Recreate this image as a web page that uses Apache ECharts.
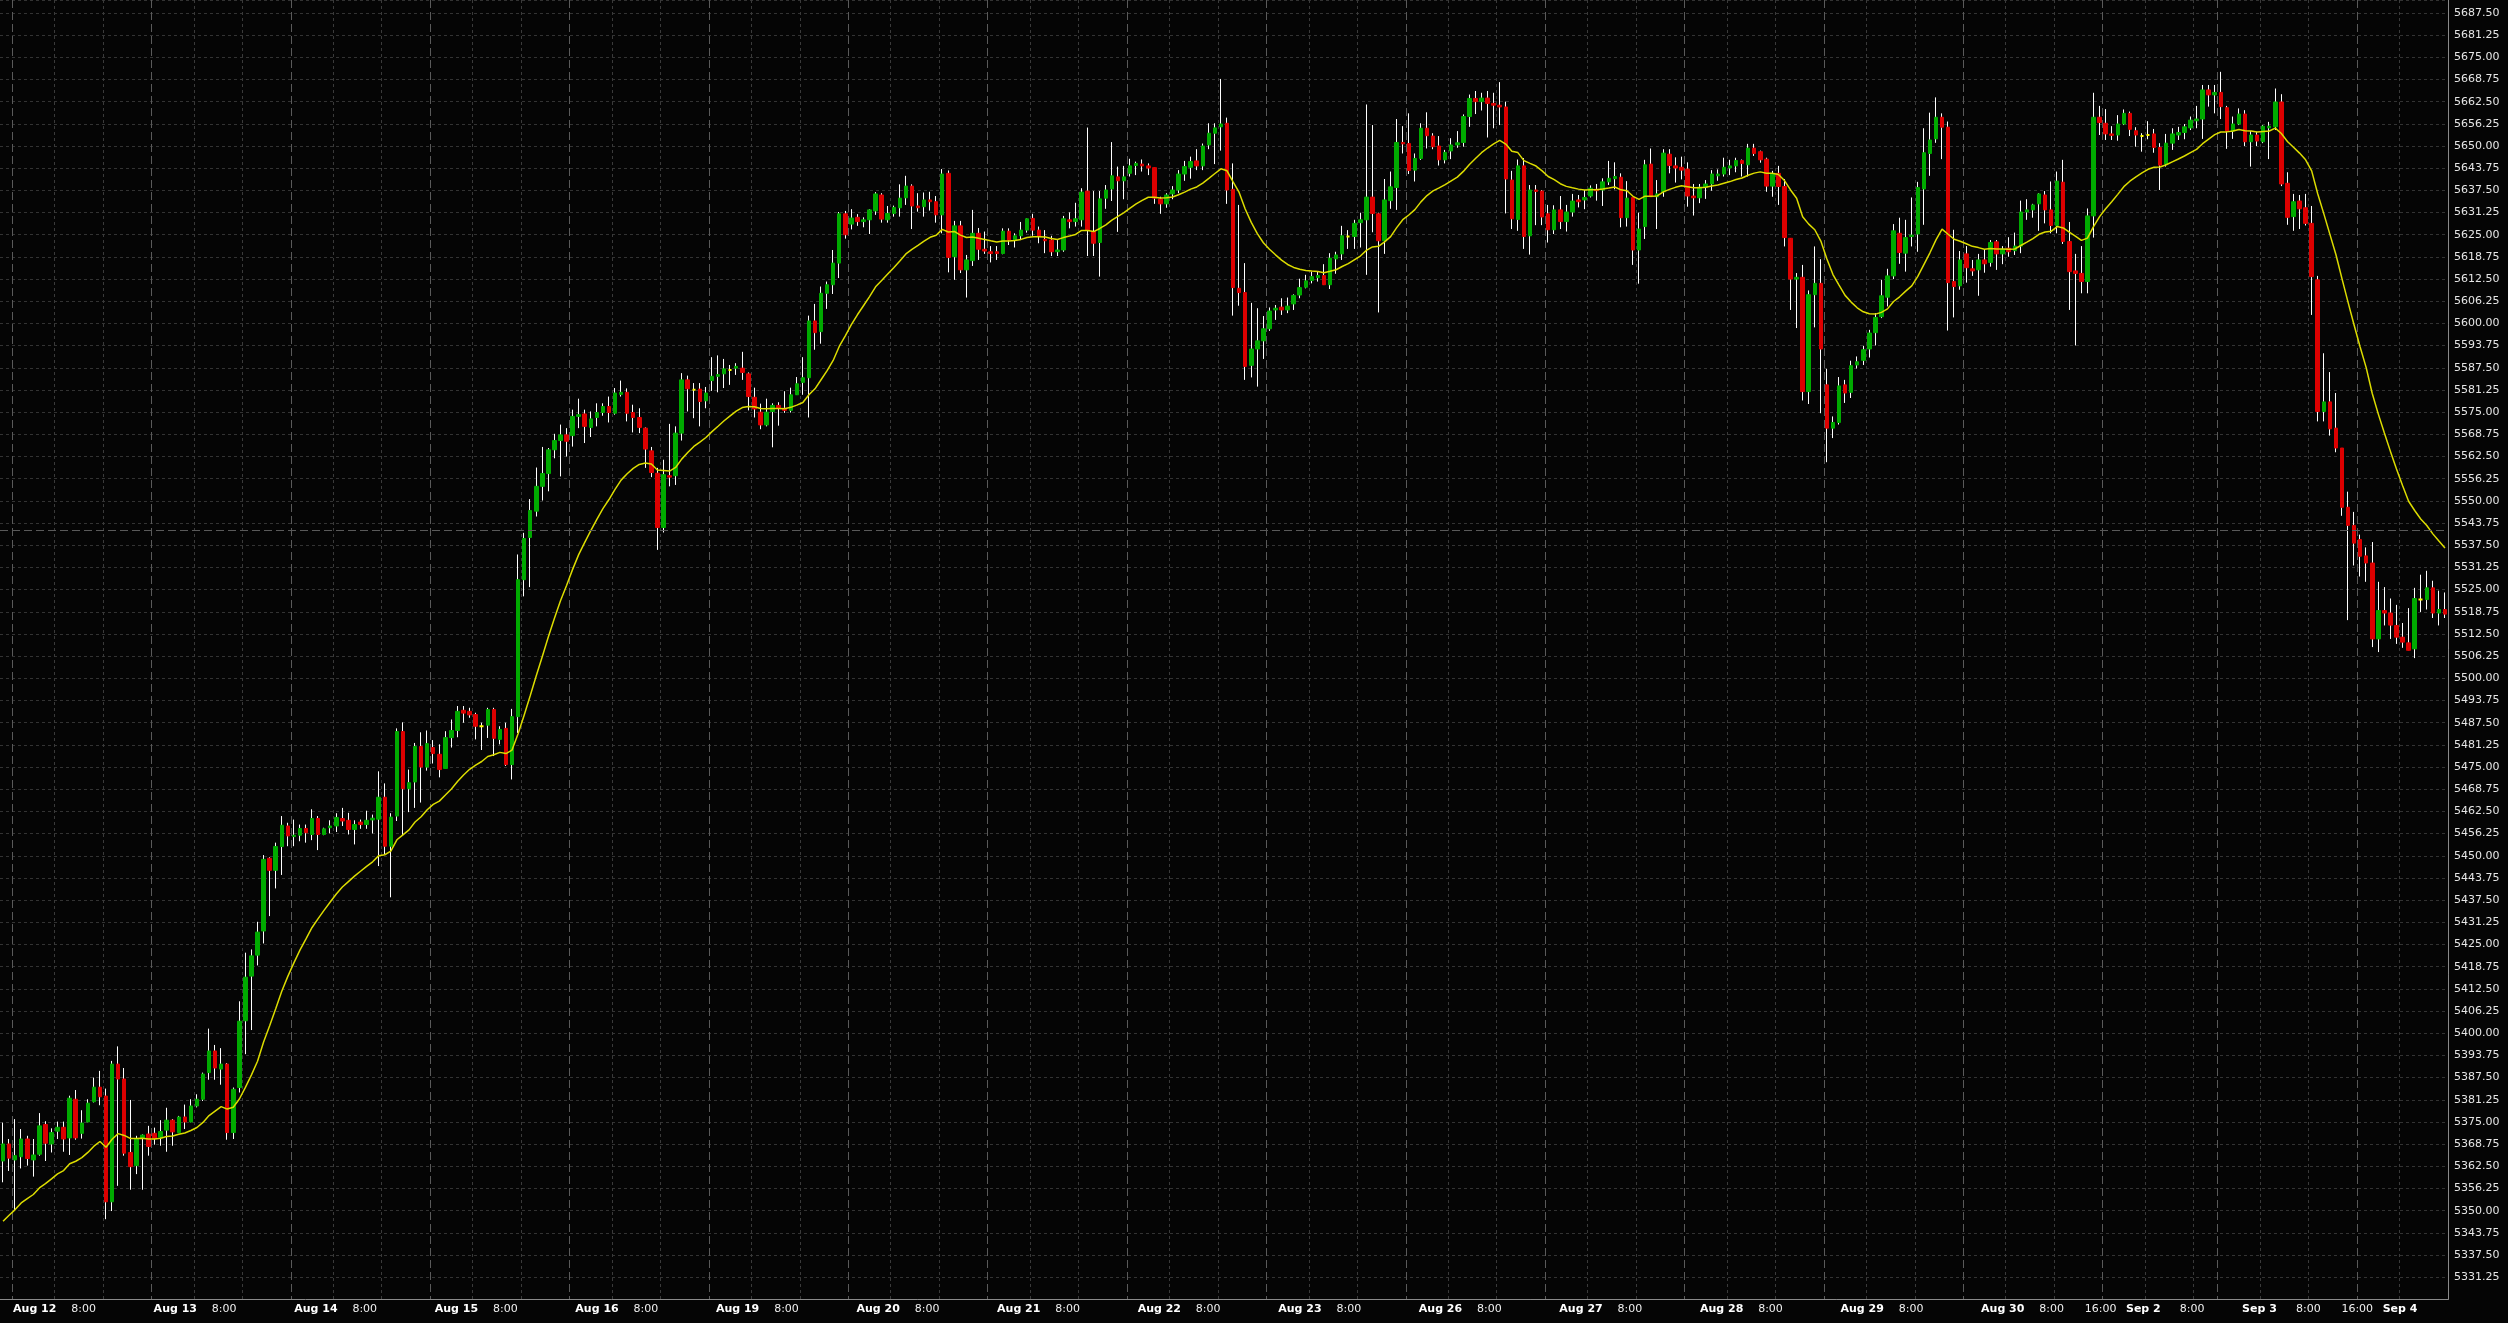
<!DOCTYPE html>
<html><head><meta charset="utf-8">
<script src="https://cdn.jsdelivr.net/npm/echarts@6/dist/echarts.min.js"></script>
<style>html,body{margin:0;padding:0;background:#050505;}#c{width:2508px;height:1323px;}</style>
</head><body><div id="c"></div>
<script>
// ---- data (hourly OHLC) ----
const opens = [
5364.0,5368.8,5364.3,5365.2,5370.2,5364.3,5365.9,5374.3,5368.8,5372.4,5373.5,5370.5,5381.4,5371.8,5375.0,5380.7,5384.8,5382.3,5352.5,5391.3,
5387.1,5366.4,5362.7,5370.5,5371.6,5371.8,5370.7,5372.7,5375.5,5372.0,5376.4,5375.0,5379.5,5381.4,5388.9,5395.0,5389.9,5391.3,5372.0,5384.7,
5403.5,5416.1,5422.0,5428.8,5449.3,5445.9,5452.6,5458.4,5455.4,5455.8,5457.7,5456.0,5460.5,5456.0,5457.9,5458.4,5460.5,5460.0,5457.4,5459.5,
5458.8,5460.1,5460.3,5466.5,5452.7,5461.2,5485.0,5468.9,5470.8,5480.8,5475.0,5480.5,5478.6,5474.6,5483.3,5485.3,5491.0,5490.7,5489.8,5486.5,
5486.8,5491.2,5482.8,5485.9,5475.7,5489.2,5527.8,5539.7,5547.1,5554.1,5557.7,5564.4,5567.0,5568.6,5568.4,5573.8,5574.5,5570.7,5573.5,5574.9,
5576.6,5574.7,5580.0,5580.6,5574.9,5573.5,5570.5,5564.1,5557.8,5542.5,5557.1,5557.1,5569.1,5584.1,5581.3,5581.5,5578.2,5583.9,5585.1,5585.8,
5586.9,5587.4,5587.4,5585.8,5579.2,5575.0,5571.4,5575.2,5576.9,5576.1,5575.5,5579.9,5583.4,5584.7,5600.7,5597.7,5608.5,5610.9,5617.0,5630.9,
5628.0,5629.9,5628.7,5629.2,5631.7,5636.2,5629.2,5631.0,5632.6,5635.4,5638.7,5633.1,5632.9,5634.8,5634.3,5630.6,5642.3,5618.8,5627.5,5615.1,
5617.7,5625.4,5620.9,5620.2,5620.2,5619.7,5626.0,5623.5,5624.7,5626.3,5629.6,5626.3,5623.7,5623.5,5620.2,5620.7,5629.2,5628.7,5629.2,5637.3,
5625.9,5622.8,5635.3,5637.9,5641.3,5640.2,5642.3,5644.5,5644.9,5644.4,5643.9,5635.1,5633.7,5636.5,5637.6,5642.1,5644.0,5645.8,5644.4,5650.3,
5653.6,5655.4,5656.4,5637.8,5609.9,5608.7,5588.2,5592.8,5595.1,5598.5,5603.8,5604.6,5603.8,5605.5,5608.0,5610.2,5612.1,5612.9,5613.5,5610.9,
5618.2,5619.6,5624.5,5624.5,5628.4,5629.2,5635.6,5630.9,5623.3,5634.6,5638.3,5651.0,5650.7,5643.2,5646.5,5655.0,5652.8,5650.0,5646.1,5648.6,
5650.3,5651.0,5658.3,5663.4,5662.5,5663.5,5662.0,5661.5,5661.0,5640.4,5629.3,5644.4,5624.7,5637.6,5637.3,5630.9,5626.4,5632.0,5628.7,5631.4,
5634.8,5634.8,5635.9,5637.8,5637.6,5639.9,5640.8,5641.2,5629.8,5635.5,5620.7,5627.3,5644.9,5635.7,5637.1,5647.7,5644.4,5644.0,5643.5,5635.9,
5635.4,5638.4,5639.3,5641.6,5642.1,5643.8,5644.4,5645.9,5644.7,5649.4,5648.4,5646.3,5638.7,5642.3,5638.6,5624.0,5612.5,5613.0,5580.8,5608.1,
5611.3,5582.7,5570.5,5572.1,5582.7,5580.6,5588.3,5589.6,5592.8,5597.4,5601.9,5607.4,5613.4,5625.4,5619.8,5624.5,5625.2,5637.9,5647.9,5652.0,
5658.1,5655.3,5611.8,5610.6,5619.6,5615.4,5615.1,5617.9,5617.2,5623.0,5619.6,5621.2,5620.5,5621.8,5631.4,5632.0,5633.7,5636.2,5632.0,5627.6,
5639.8,5623.1,5614.8,5614.1,5611.8,5630.3,5658.1,5656.4,5653.4,5653.1,5656.2,5659.2,5654.3,5652.8,5653.1,5653.4,5649.6,5644.9,5650.8,5653.1,
5653.8,5655.1,5657.1,5657.6,5665.8,5664.4,5665.1,5660.8,5654.2,5656.2,5659.0,5651.2,5653.1,5651.2,5655.1,5655.4,5662.4,5639.5,5630.1,5634.5,
5632.6,5628.2,5612.3,5575.2,5577.9,5570.5,5564.9,5548.2,5543.1,5539.1,5534.5,5532.5,5511.1,5519.1,5518.4,5514.9,5511.6,5510.0,5508.3,5522.2,
5522.2,5525.5,5518.4,5519.4];
const highs = [
5374.8,5370.2,5375.8,5373.0,5371.1,5370.2,5377.5,5375.2,5373.2,5375.1,5375.1,5382.4,5384.0,5378.3,5381.4,5387.5,5389.4,5384.4,5392.2,5396.3,
5390.2,5381.2,5371.1,5371.5,5373.9,5373.4,5375.5,5379.0,5375.8,5376.7,5379.9,5381.4,5382.8,5388.9,5401.3,5396.7,5395.8,5391.6,5384.7,5409.0,
5422.7,5423.6,5431.4,5450.2,5449.6,5453.7,5461.2,5459.3,5460.2,5458.8,5458.8,5463.1,5461.2,5457.9,5460.0,5462.0,5463.5,5462.1,5460.0,5460.2,
5462.7,5461.6,5473.8,5470.4,5462.0,5485.9,5487.6,5474.3,5481.8,5484.8,5485.3,5482.6,5481.4,5485.1,5488.4,5492.2,5492.2,5491.7,5490.3,5487.5,
5491.7,5491.7,5486.5,5487.5,5491.4,5534.9,5541.0,5550.5,5559.4,5565.2,5564.9,5568.9,5571.5,5570.5,5575.7,5578.8,5575.7,5575.2,5577.5,5577.5,
5579.4,5581.8,5583.9,5581.7,5577.1,5576.1,5570.7,5565.2,5559.3,5561.6,5571.7,5571.0,5586.0,5585.3,5583.2,5583.2,5582.1,5590.5,5591.0,5590.0,
5588.3,5588.8,5592.0,5586.2,5581.9,5577.4,5578.8,5577.5,5577.8,5580.9,5581.9,5584.9,5590.5,5602.2,5605.5,5610.4,5611.8,5620.7,5631.4,5631.7,
5632.2,5630.8,5629.9,5632.2,5637.0,5636.7,5633.1,5633.2,5639.2,5641.6,5639.2,5636.7,5636.9,5637.1,5635.9,5643.5,5643.1,5628.9,5628.9,5619.3,
5632.0,5626.9,5625.9,5621.8,5621.8,5626.8,5626.8,5625.4,5628.6,5629.6,5630.9,5627.3,5626.3,5624.7,5623.5,5630.3,5631.3,5634.0,5638.1,5655.2,
5637.3,5637.3,5639.0,5651.1,5644.2,5644.4,5646.4,5645.6,5646.2,5645.1,5643.9,5635.7,5636.7,5638.7,5643.2,5645.8,5647.0,5649.1,5650.7,5656.4,
5656.4,5668.9,5658.0,5645.1,5633.4,5617.0,5605.8,5604.3,5602.1,5604.5,5605.2,5607.1,5607.3,5608.2,5612.6,5613.7,5614.6,5614.6,5616.7,5619.8,
5620.2,5627.5,5626.3,5629.2,5631.2,5661.7,5655.9,5631.2,5640.7,5642.8,5657.6,5655.6,5659.2,5647.9,5656.4,5659.5,5653.6,5652.8,5648.9,5652.2,
5654.2,5658.9,5664.5,5665.5,5665.0,5665.5,5665.0,5668.0,5662.5,5643.0,5646.2,5646.6,5639.0,5639.0,5637.6,5633.4,5633.3,5635.9,5633.4,5636.5,
5636.2,5637.6,5638.9,5639.3,5640.9,5645.8,5645.4,5642.3,5640.1,5635.5,5631.2,5646.1,5649.3,5640.4,5649.1,5649.1,5646.8,5647.0,5645.4,5639.3,
5639.3,5640.4,5643.2,5643.4,5646.7,5646.1,5646.7,5646.2,5650.6,5650.6,5648.7,5646.7,5643.0,5644.4,5640.7,5624.0,5614.2,5616.5,5609.3,5621.7,
5618.1,5587.2,5573.8,5584.9,5584.1,5589.5,5590.7,5593.7,5598.2,5602.9,5612.3,5615.4,5628.0,5629.8,5629.2,5635.5,5639.9,5655.0,5659.4,5663.7,
5659.2,5656.9,5626.4,5620.4,5621.8,5617.9,5619.6,5620.7,5623.5,5623.5,5621.8,5624.3,5625.6,5634.6,5635.0,5633.7,5636.7,5637.3,5640.0,5642.8,
5646.1,5628.6,5619.6,5621.8,5632.4,5665.0,5661.3,5660.4,5655.6,5658.7,5660.3,5659.7,5655.3,5653.6,5657.0,5654.8,5650.8,5653.4,5655.0,5655.4,
5656.2,5658.3,5661.3,5667.2,5667.2,5667.2,5670.9,5661.3,5658.3,5660.6,5660.1,5654.2,5654.0,5655.9,5656.8,5666.2,5664.6,5642.6,5636.5,5636.2,
5636.5,5633.1,5613.4,5591.6,5586.3,5580.4,5564.9,5552.6,5546.9,5540.5,5536.9,5538.4,5527.2,5525.7,5522.5,5520.7,5515.6,5519.8,5525.5,5529.2,
5530.3,5527.5,5524.7,5524.2];
const lows = [
5358.0,5361.2,5350.0,5361.9,5362.7,5359.6,5365.5,5364.0,5366.4,5370.2,5366.6,5365.7,5370.0,5370.3,5374.9,5380.5,5379.7,5347.6,5349.9,5357.0,
5365.5,5355.9,5360.3,5355.9,5365.5,5368.6,5368.3,5366.6,5368.3,5372.0,5373.0,5374.9,5379.1,5380.9,5386.9,5386.9,5385.5,5370.0,5370.2,5383.3,
5394.1,5400.9,5419.1,5425.3,5433.0,5440.8,5444.6,5452.7,5452.7,5454.1,5453.7,5454.4,5451.6,5455.8,5456.3,5456.7,5458.4,5456.0,5453.2,5457.6,
5457.6,5456.3,5447.1,5450.4,5438.3,5459.8,5455.6,5462.3,5463.5,5465.0,5474.0,5476.0,5472.1,5474.6,5480.5,5483.4,5487.5,5488.9,5482.8,5479.8,
5483.2,5478.1,5481.4,5475.3,5471.5,5484.6,5523.1,5525.7,5545.6,5550.1,5552.7,5562.0,5556.9,5562.5,5565.3,5570.5,5566.3,5568.0,5571.0,5574.0,
5572.1,5574.3,5579.4,5572.4,5569.3,5569.1,5559.3,5556.7,5536.2,5541.1,5554.1,5554.5,5567.0,5575.2,5573.3,5571.0,5576.1,5581.0,5580.6,5581.8,
5582.7,5585.5,5584.1,5575.5,5573.5,5570.2,5571.0,5565.1,5571.2,5574.8,5574.9,5579.9,5579.9,5573.5,5592.6,5594.3,5604.1,5608.3,5612.8,5623.9,
5626.5,5627.5,5627.1,5625.2,5630.6,5628.4,5628.4,5630.1,5630.1,5633.4,5626.6,5631.5,5630.1,5631.8,5628.4,5625.4,5614.4,5612.3,5614.2,5607.3,
5616.2,5617.9,5619.6,5617.2,5617.9,5619.5,5622.1,5621.4,5623.5,5625.6,5624.7,5622.6,5619.8,5619.0,5619.0,5620.2,5626.8,5627.3,5627.3,5619.0,
5619.0,5613.2,5632.3,5634.5,5625.8,5635.0,5641.4,5641.8,5642.8,5641.8,5633.7,5630.9,5632.6,5635.0,5636.7,5640.2,5640.8,5643.2,5643.2,5649.1,
5644.9,5648.7,5633.7,5602.2,5605.0,5584.1,5584.8,5582.2,5590.0,5597.9,5601.0,5602.4,5602.9,5603.8,5607.1,5609.9,5611.3,5611.8,5610.9,5609.7,
5614.0,5617.9,5621.0,5621.0,5621.4,5613.7,5625.7,5603.1,5619.6,5632.3,5632.0,5647.9,5642.1,5640.0,5646.1,5649.3,5649.1,5644.5,5645.1,5646.3,
5649.5,5649.8,5655.4,5659.0,5660.0,5652.4,5655.0,5655.9,5631.0,5626.6,5626.1,5621.0,5619.4,5627.7,5627.7,5622.8,5625.2,5626.6,5625.9,5630.1,
5632.7,5632.2,5635.5,5634.6,5633.1,5639.0,5637.8,5627.1,5627.3,5616.5,5611.2,5623.8,5635.7,5626.6,5635.7,5642.3,5639.7,5640.6,5632.9,5630.4,
5633.9,5635.1,5637.4,5640.2,5641.4,5641.8,5642.6,5641.4,5641.4,5647.2,5645.3,5637.1,5635.7,5633.4,5621.7,5603.8,5598.7,5578.3,5577.3,5598.9,
5574.7,5560.9,5567.7,5571.5,5577.6,5579.0,5587.3,5588.3,5590.4,5593.8,5601.5,5604.8,5612.5,5616.8,5614.6,5621.7,5620.2,5627.8,5641.6,5650.9,
5646.3,5598.0,5601.7,5609.5,5611.5,5613.4,5607.8,5614.3,5616.0,5615.1,5616.7,5618.8,5619.3,5619.8,5629.2,5629.8,5626.1,5628.2,5625.4,5625.4,
5622.4,5603.8,5593.8,5608.5,5608.5,5624.2,5653.1,5651.7,5651.7,5651.5,5655.9,5652.8,5649.8,5648.4,5651.9,5648.1,5637.6,5644.2,5648.9,5651.7,
5651.9,5654.5,5655.0,5652.0,5661.1,5659.2,5657.6,5649.2,5652.0,5655.9,5650.0,5644.2,5650.0,5650.8,5646.3,5654.5,5638.7,5627.8,5626.1,5626.6,
5627.6,5602.4,5572.4,5572.4,5568.4,5563.7,5545.8,5516.4,5531.8,5528.7,5527.2,5508.8,5507.4,5514.9,5511.1,5509.7,5508.6,5507.9,5505.7,5518.7,
5519.4,5517.0,5514.9,5517.0];
const closes = [
5368.8,5364.8,5365.5,5370.2,5364.7,5365.7,5373.9,5369.0,5372.0,5373.5,5370.2,5381.7,5370.5,5374.7,5380.3,5384.8,5382.1,5352.5,5391.3,5387.1,
5366.2,5362.4,5370.3,5371.3,5368.1,5370.3,5372.3,5375.5,5372.2,5376.4,5375.0,5379.5,5381.4,5388.5,5395.0,5390.2,5391.3,5372.0,5384.2,5403.4,
5415.8,5421.8,5428.5,5449.0,5445.9,5452.6,5458.6,5455.6,5455.8,5457.7,5456.5,5460.5,5456.0,5457.6,5458.4,5460.8,5459.8,5457.4,5458.8,5458.8,
5460.0,5460.6,5466.5,5452.7,5460.9,5485.0,5468.9,5470.6,5480.8,5475.0,5481.6,5478.8,5474.3,5483.3,5485.3,5490.7,5490.2,5489.7,5486.5,5486.5,
5491.2,5483.1,5485.6,5475.7,5489.2,5527.8,5539.4,5547.3,5554.1,5557.7,5564.4,5567.0,5568.6,5566.8,5573.8,5574.3,5571.0,5573.1,5574.9,5576.6,
5574.9,5580.4,5580.6,5574.7,5573.5,5570.7,5564.6,5558.0,5542.5,5557.4,5556.7,5569.1,5584.1,5581.6,5581.3,5578.0,5580.4,5585.1,5585.6,5587.2,
5586.9,5587.9,5586.2,5579.4,5575.9,5571.4,5575.0,5576.9,5576.0,5575.5,5579.9,5583.0,5584.7,5600.7,5597.4,5608.5,5610.9,5617.0,5630.9,5625.0,
5629.7,5628.7,5629.2,5632.0,5636.5,5629.4,5631.0,5632.7,5635.3,5638.7,5633.1,5632.6,5634.8,5634.3,5630.6,5642.1,5618.6,5627.5,5615.1,5617.9,
5625.4,5620.9,5620.4,5619.7,5619.7,5626.0,5623.5,5624.7,5626.3,5629.5,5626.3,5624.5,5623.3,5620.2,5620.7,5629.5,5628.7,5629.5,5637.0,5626.3,
5622.6,5635.1,5637.6,5641.6,5640.2,5641.3,5644.4,5645.1,5644.4,5643.8,5635.3,5633.7,5636.2,5637.6,5642.1,5644.2,5645.6,5644.4,5650.0,5653.6,
5655.1,5656.2,5637.6,5610.1,5608.7,5587.9,5592.8,5595.1,5598.5,5603.5,5604.3,5603.8,5604.9,5607.9,5610.1,5612.0,5613.2,5613.5,5610.9,5618.4,
5619.3,5624.7,5624.5,5628.2,5629.2,5635.6,5631.0,5623.3,5634.8,5638.5,5651.0,5650.6,5643.1,5646.5,5655.0,5652.9,5649.8,5646.1,5648.2,5650.3,
5650.9,5658.3,5663.4,5662.5,5663.5,5662.0,5661.5,5661.0,5640.7,5629.5,5644.4,5624.5,5637.6,5637.2,5630.0,5626.4,5632.0,5628.7,5631.4,5634.5,
5634.3,5635.5,5638.1,5637.4,5639.9,5640.9,5641.4,5629.8,5635.3,5620.7,5626.6,5644.7,5635.7,5636.5,5648.0,5644.5,5643.8,5643.2,5635.9,5635.4,
5638.4,5639.3,5642.1,5642.1,5644.0,5644.4,5645.9,5645.1,5649.4,5647.9,5646.1,5638.7,5642.1,5638.6,5624.2,5612.5,5613.0,5580.8,5608.1,5611.3,
5592.8,5570.5,5572.1,5582.4,5580.4,5588.1,5589.2,5592.6,5597.3,5601.7,5607.8,5613.4,5626.1,5620.0,5624.2,5624.9,5638.3,5648.1,5651.7,5658.1,
5655.3,5611.5,5610.4,5617.9,5615.7,5614.8,5617.9,5616.8,5622.8,5619.6,5620.9,5620.2,5621.8,5631.4,5632.0,5633.4,5636.5,5632.0,5627.6,5640.1,
5623.1,5614.6,5614.1,5611.8,5630.3,5658.1,5656.6,5653.4,5653.0,5656.2,5659.2,5654.7,5653.1,5652.8,5653.1,5649.6,5644.6,5650.8,5653.4,5653.8,
5655.4,5657.3,5657.6,5665.8,5664.4,5665.1,5661.1,5654.2,5656.2,5659.0,5651.2,5653.1,5651.4,5655.6,5655.6,5662.4,5639.3,5629.9,5634.3,5632.3,
5628.2,5613.2,5575.2,5577.9,5570.3,5564.9,5548.2,5543.1,5538.1,5534.4,5532.5,5511.1,5519.1,5518.4,5515.0,5511.6,5510.2,5507.9,5522.5,5522.2,
5525.5,5518.4,5519.4,5518.1];

// moving average (EMA 20 of closes), first value
const maPeriod = 20;
const maSeed = 5347.0;
// horizontal dashed reference level
const refLevel = 5541.75;

// sessions: first Sunday evening, then trading days (hours 0..lastHour, then 18..23 evening)
const firstEvening = 'Aug 11';
const tradingDays = ['Aug 12','Aug 13','Aug 14','Aug 15','Aug 16','Aug 19','Aug 20','Aug 21','Aug 22','Aug 23',
  'Aug 26','Aug 27','Aug 28','Aug 29','Aug 30','Sep 2','Sep 3','Sep 4'];
const lastHour = {'Sep 2': 12, 'Sep 4': 10};
const noEvening = ['Sep 4'];
const show16 = ['Aug 30', 'Sep 3'];
const hide8 = ['Sep 4'];

// y ticks
const yMin = 5325, yMax = 5691.14, yStep = 6.25;

// ---- build categories ----
const cats = [];
for (let h = 18; h <= 23; h++) cats.push({d: firstEvening, h});
tradingDays.forEach(d => {
  const lh = lastHour[d] !== undefined ? lastHour[d] : 16;
  for (let h = 0; h <= lh; h++) cats.push({d, h});
  if (!noEvening.includes(d)) for (let h = 18; h <= 23; h++) cats.push({d, h});
});
const catNames = cats.map(c => c.d + ' ' + c.h + ':00');

// EMA
const ma = [];
let e = maSeed;
for (let i = 0; i < closes.length; i++) {
  if (i > 0) e = e + (closes[i] - e) * 2 / (maPeriod + 1);
  ma.push(+e.toFixed(2));
}

const UP = '#00aa00', DOWN = '#dd0000', DOJI = '#ffff00', WICK = '#ffffff';
const wickData = opens.map((o, i) => [o, closes[i], lows[i], highs[i]]);
const bodyData = opens.map((o, i) => {
  const c = closes[i];
  const v = [o, c, Math.min(o, c), Math.max(o, c)];
  if (o === c) return {value: v, itemStyle: {color: DOJI, color0: DOJI, borderColor: DOJI, borderColor0: DOJI, borderColorDoji: DOJI, borderWidth: 2}};
  return v;
});

const chart = echarts.init(document.getElementById('c'), null, {renderer: 'canvas'});
const isLabel = (i) => {
  const c = cats[i];
  if (!c) return false;
  if (c.h === 0) return true;
  if (c.h === 8) return !hide8.includes(c.d);
  return c.h === 16 && show16.includes(c.d);
};
const isTick = (v) => Math.abs(v / yStep - Math.round(v / yStep)) < 1e-6;

const opt = {
  backgroundColor: '#050505',
  animation: false,
  grid: [
    {left: 0, right: 60, top: 0, bottom: 23.6, containLabel: false},
    {left: 0, right: 38.8, top: 0, bottom: 23.6, containLabel: false}
  ],
  xAxis: [{
    type: 'category', data: catNames, boundaryGap: true, position: 'bottom', gridIndex: 0,
    axisLine: {show: true, onZero: false, lineStyle: {color: '#8a8a8a', width: 1}},
    axisTick: {show: false},
    axisLabel: {show: false},
    splitLine: {show: true, interval: (i) => { const c = cats[i]; return c && (c.h === 3 || c.h === 11); },
      lineStyle: {color: '#3a3a3a', width: 1, type: [3, 3]}}
  }, {
    type: 'category', data: catNames, boundaryGap: true, position: 'top', gridIndex: 0,
    axisLine: {show: false}, axisTick: {show: false}, axisLabel: {show: false},
    splitLine: {show: true, interval: (i) => { const c = cats[i]; return c && c.h === 20; },
      lineStyle: {color: '#5a5a5a', width: 1, type: [8, 4]}}
  }, {
    type: 'category', data: catNames, boundaryGap: true, position: 'bottom', gridIndex: 1,
    axisLine: {show: false, onZero: false}, axisTick: {show: false}, splitLine: {show: false},
    axisLabel: {
      show: true, interval: (i) => isLabel(i), margin: 4, hideOverlap: false,
      padding: [0, 10, 0, 0],
      formatter: (v, i) => { const c = cats[i]; return c.h === 0 ? '{d|' + c.d + '}' : '{t|' + c.h + ':00}'; },
      rich: {
        d: {fontFamily: 'DejaVu Sans', fontWeight: 'bold', fontSize: 11, color: '#ffffff'},
        t: {fontFamily: 'DejaVu Sans', fontSize: 11, color: '#f0f0f0'}
      }
    }
  }],
  yAxis: [{
    type: 'value', position: 'right', min: yMin, max: yMax, interval: yStep, gridIndex: 0,
    axisLine: {show: true, lineStyle: {color: '#8a8a8a', width: 1}},
    axisTick: {show: false},
    axisLabel: {show: true, margin: 6, showMinLabel: false,
      fontFamily: 'DejaVu Sans', fontSize: 11, color: '#e6e6e6',
      formatter: (v) => isTick(v) ? v.toFixed(2) : ''},
    splitLine: {show: true, lineStyle: {color: '#333333', width: 1, type: [3, 3]}}
  }, {
    type: 'value', gridIndex: 1, min: yMin, max: yMax, show: false, splitLine: {show: false}
  }],
  series: [{
    name: 'wick', type: 'candlestick', xAxisIndex: 0, yAxisIndex: 0, data: wickData, barWidth: 1,
    itemStyle: {color: WICK, color0: WICK, borderColor: WICK, borderColor0: WICK, borderColorDoji: WICK, borderWidth: 1},
    silent: true, z: 2
  }, {
    name: 'body', type: 'candlestick', xAxisIndex: 0, yAxisIndex: 0, data: bodyData, barWidth: 4,
    itemStyle: {color: UP, color0: DOWN, borderColor: UP, borderColor0: DOWN, borderWidth: 1},
    silent: true, z: 3
  }, {
    name: 'MA', type: 'line', xAxisIndex: 0, yAxisIndex: 0, data: ma, showSymbol: false, symbol: 'none', smooth: false,
    lineStyle: {color: '#dcdc00', width: 1.5}, silent: true, z: 4,
    markLine: {silent: true, symbol: ['none', 'none'], label: {show: false},
      lineStyle: {color: '#5a5a5a', width: 1, type: [8, 4]}, data: [{yAxis: refLevel}]}
  }]
};
if (opens.length !== 404 || highs.length !== 404 || lows.length !== 404 || closes.length !== 404 || cats.length !== 404) {
  opt.graphic = [{type: 'text', left: 100, top: 100, style: {text: 'LEN ' + opens.length + ' ' + highs.length + ' ' + lows.length + ' ' + closes.length + ' ' + cats.length, fill: '#fff', fontSize: 40}}];
}
chart.setOption(opt);
</script>
</body></html>
